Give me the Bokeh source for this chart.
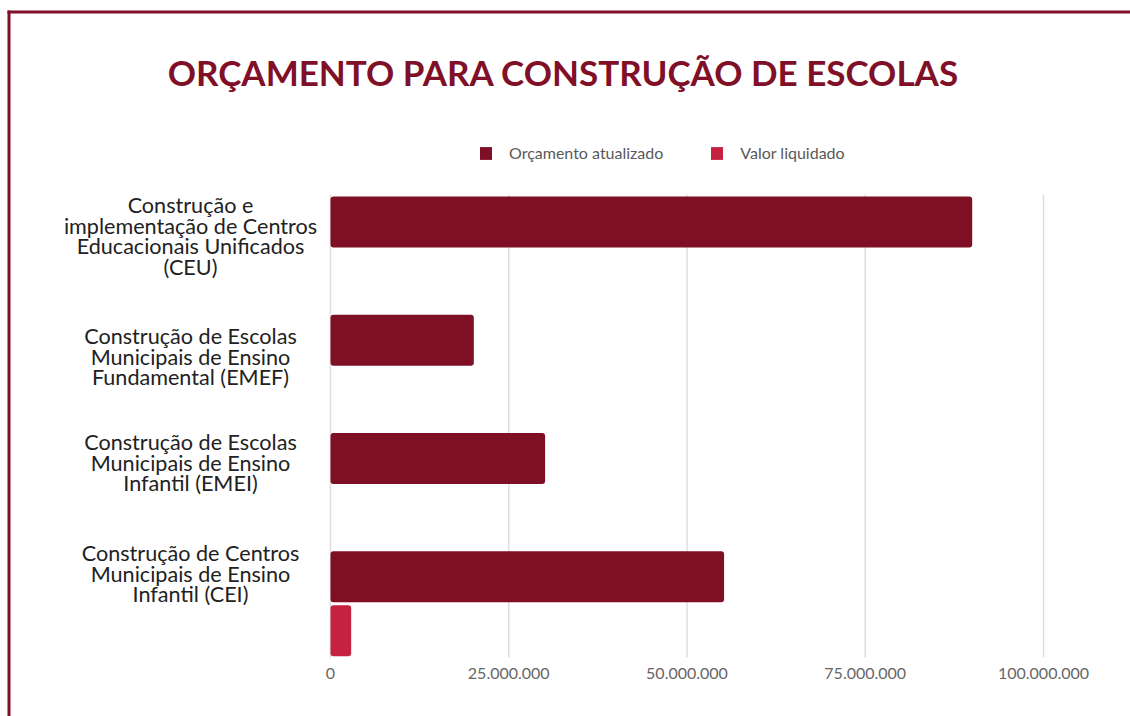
from bokeh.plotting import figure
from bokeh.models import (Range1d, FixedTicker, Legend, LegendItem, Label, BoxAnnotation)
from bokeh.embed import file_html
from bokeh.resources import INLINE

# ---------------- data ----------------
categories = [
    "Construção e\nimplementação de Centros\nEducacionais Unificados\n(CEU)",
    "Construção de Escolas\nMunicipais de Ensino\nFundamental (EMEF)",
    "Construção de Escolas\nMunicipais de Ensino\nInfantil (EMEI)",
    "Construção de Centros\nMunicipais de Ensino\nInfantil (CEI)",
]
orcamento_atualizado = [90_000_000, 20_100_000, 30_100_000, 55_200_000]
valor_liquidado = [0, 0, 0, 2_900_000]
series_names = ["Orçamento atualizado", "Valor liquidado"]
x_ticks = [0, 25_000_000, 50_000_000, 75_000_000, 100_000_000]
x_tick_labels = ["0", "25.000.000", "50.000.000", "75.000.000", "100.000.000"]
title_text = "ORÇAMENTO PARA CONSTRUÇÃO DE ESCOLAS"

# ---------------- layout / style constants (pixels) ----------------
W, H = 1130, 716
AXIS_H = 0                  # tick labels are pulled up into the canvas with a negative standoff
ZERO_PX = 330               # pixel column of value 0
PX_PER_VALUE = 713 / 100_000_000
BAND_PX = 118.3             # pixels per category band
BAND0_TOP_PX = 194          # top of first band
GROUP_PAD = 0.46
BAR_H = 0.431
OFFSET = 0.228
label_center_px = [235.5, 356, 462, 573]
LINE_PX = 20.5
GRID_TOP_PX, GRID_BOT_PX = 194, 657
TICK_LABEL_TOP_PX = 667

DARK = "#7f0f25"
LIGHT = "#c4223f"
TITLE_C = "#7f1028"
FONT = "Lato"


def px2x(px):
    return (px - ZERO_PX) / PX_PER_VALUE


def py2y(py):
    return -GROUP_PAD + (py - BAND0_TOP_PX) / BAND_PX


frame_bottom_px = H - AXIS_H
p = figure(width=W, height=H, output_backend="svg", toolbar_location=None,
           x_range=Range1d(px2x(0), px2x(W)),
           y_range=Range1d(py2y(frame_bottom_px), py2y(0)),
           min_border_left=0, min_border_right=0, min_border_top=0,
           min_border_bottom=AXIS_H,
           background_fill_color="white", border_fill_color="white",
           outline_line_color=None)

idx = list(range(len(categories)))
y_orc = [i - OFFSET for i in idx]
y_liq = [i + OFFSET for i in idx]

# grid lines (limited to the bar area)
p.segment(x0=x_ticks, x1=x_ticks, y0=[py2y(GRID_TOP_PX)] * len(x_ticks),
          y1=[py2y(GRID_BOT_PX)] * len(x_ticks), line_color="#dedede", line_width=1.5)

r1 = p.hbar(y=y_orc, right=orcamento_atualizado, left=0, height=BAR_H,
            fill_color=DARK, line_color=None, border_radius=3)
r2 = p.hbar(y=y_liq, right=valor_liquidado, left=0, height=BAR_H,
            fill_color=LIGHT, line_color=None, border_radius=3)

# axes
p.yaxis.visible = False
p.ygrid.visible = False
p.xgrid.visible = False
p.xaxis.ticker = FixedTicker(ticks=x_ticks)
p.xaxis.major_label_overrides = {t: l for t, l in zip(x_ticks, x_tick_labels)}
p.xaxis.axis_line_color = None
p.xaxis.major_tick_line_color = None
p.xaxis.minor_tick_line_color = None
p.xaxis.major_tick_in = 0
p.xaxis.major_tick_out = 0
p.xaxis.major_label_standoff = TICK_LABEL_TOP_PX - frame_bottom_px
p.xaxis.major_label_text_font = FONT
p.xaxis.major_label_text_font_size = "16px"
p.xaxis.major_label_text_color = "#666666"

# category labels
label_x = px2x(190)
for i, cat in enumerate(categories):
    lines = cat.split("\n")
    n = len(lines)
    for j, line in enumerate(lines):
        py = label_center_px[i] + (j - (n - 1) / 2) * LINE_PX
        p.add_layout(Label(x=label_x, y=py2y(py), text=line, text_align="center",
                           text_baseline="middle", text_font=FONT,
                           text_font_size="21.6px", text_color="#222222"))

# legend
legend = Legend(items=[LegendItem(label=series_names[0], renderers=[r1]),
                       LegendItem(label=series_names[1], renderers=[r2])],
                orientation="horizontal", location=(478, frame_bottom_px - 162),
                glyph_width=15, glyph_height=16, label_height=16,
                label_standoff=16, spacing=46, padding=0, margin=0,
                border_line_color=None, background_fill_alpha=0,
                label_text_font=FONT, label_text_font_size="16px",
                label_text_color="#595959")
p.add_layout(legend)

# title
p.add_layout(Label(x=px2x(563), y=py2y(71), text=title_text, text_align="center",
                   text_baseline="middle", text_font=FONT, text_font_size="35px",
                   text_font_style="bold", text_color=TITLE_C))

# frame border lines
p.add_layout(BoxAnnotation(left=px2x(7), right=px2x(W), top=py2y(10), bottom=py2y(13),
                           fill_color=TITLE_C, fill_alpha=1, line_color=None, level="overlay"))
p.add_layout(BoxAnnotation(left=px2x(7), right=px2x(10), top=py2y(10), bottom=py2y(H),
                           fill_color=TITLE_C, fill_alpha=1, line_color=None, level="overlay"))

open("out.html", "w").write(file_html(p, INLINE))
